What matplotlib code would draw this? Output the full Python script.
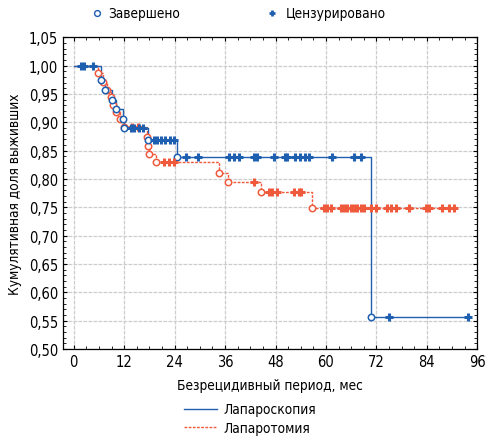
import numpy as np
import matplotlib
matplotlib.use("Agg")
import matplotlib.pyplot as plt
from matplotlib.lines import Line2D
from matplotlib.ticker import MultipleLocator, FuncFormatter

plt.rcParams['font.family'] = ['Liberation Sans Narrow', 'DejaVu Sans']
plt.rcParams['font.stretch'] = 'condensed'

# Laparoscopy (blue): event times / survival after event, censored times
lap_event_t = [6.6, 7.5, 9.2, 10.15, 11.6, 11.95, 17.65, 24.55, 70.7]
lap_event_s = [0.974, 0.957, 0.940, 0.923, 0.906, 0.889, 0.868, 0.838, 0.557]
lap_cens_t = [1.76, 2.54, 4.52, 13.6, 14.44, 15.63, 16.58,
              19.19, 19.9, 20.86, 21.81, 23.0, 23.95,
              26.8, 29.66, 37.03, 38.22, 39.41, 42.97, 43.69, 47.73, 50.35,
              50.82, 52.73, 53.92, 55.11, 56.06, 61.53, 66.76, 68.42,
              74.9, 93.9]

# Laparotomy (red)
lapt_event_t = [5.75, 7.06, 8.01, 8.85, 9.44, 10.15, 10.99, 11.94,
                17.41, 17.65, 18.0, 19.55, 34.65, 36.79, 44.64, 56.77]
lapt_event_s = [0.986, 0.971, 0.957, 0.944, 0.930, 0.918, 0.905, 0.891,
                0.874, 0.858, 0.844, 0.829, 0.811, 0.795, 0.776, 0.749]
lapt_cens_t = [13.96, 15.39, 21.57, 22.76, 23.95, 42.97,
               46.54, 47.25, 48.44, 52.49, 53.68, 54.15,
               59.62, 60.33, 61.28, 63.66, 64.38, 65.09, 66.04, 66.76,
               67.47, 68.42, 69.14, 70.8, 72.0, 74.6, 75.5, 76.7, 79.83,
               83.88, 84.59, 87.68, 89.35, 90.54]

blue = '#1f5fb0'
red = '#f05a3c'


def surv_at(t, ev_t, ev_s):
    s = 1.0
    for et, es in zip(ev_t, ev_s):
        if et <= t:
            s = es
    return s


def draw_km(ax, ev_t, ev_s, cens_t, color, ls):
    t_end = max(max(ev_t), max(cens_t))
    xs = [0.0] + list(ev_t) + [t_end]
    ys = [1.0] + list(ev_s) + [ev_s[-1]]
    ax.step(xs, ys, where='post', color=color, lw=1.0, ls=ls, zorder=3)
    ax.plot(ev_t, ev_s, 'o', ms=4.6, mfc='white', mec=color, mew=1.1, zorder=4)
    cy = [surv_at(t, ev_t, ev_s) for t in cens_t]
    ax.plot(cens_t, cy, '+', ms=5.5, mec=color, mew=2.2, zorder=5)


fig = plt.figure(figsize=(4.87, 4.39), dpi=100)
ax = fig.add_axes([0.129, 0.203, 0.851, 0.710])

draw_km(ax, lapt_event_t, lapt_event_s, lapt_cens_t, red, (0, (2, 1)))
draw_km(ax, lap_event_t, lap_event_s, lap_cens_t, blue, '-')

ax.set_xlim(-2.6, 96)
ax.set_ylim(0.5, 1.05)
ax.xaxis.set_major_locator(MultipleLocator(12))
ax.xaxis.set_minor_locator(MultipleLocator(3))
ax.yaxis.set_major_locator(MultipleLocator(0.05))
ax.yaxis.set_minor_locator(MultipleLocator(0.01))
ax.yaxis.set_major_formatter(FuncFormatter(lambda v, p: f"{v:.2f}".replace('.', ',')))
ax.tick_params(which='both', direction='in', top=True, right=True, labelsize=10.5)
ax.tick_params(which='major', length=3)
ax.tick_params(which='minor', length=2)
ax.grid(True, which='major', color='#cdcdcd', lw=0.9, ls=(0, (3, 1)))
ax.set_axisbelow(True)
for sp in ax.spines.values():
    sp.set_linewidth(0.9)

ax.set_xlabel("Безрецидивный период, мес", fontsize=9.8, labelpad=7)
ax.set_ylabel("Кумулятивная доля выживших", fontsize=9.8, labelpad=5)

# top legend
fig.add_artist(Line2D([97 / 487], [1 - 14 / 439], marker='o', ms=4.2, mfc='white',
                      mec=blue, mew=1.0, transform=fig.transFigure))
fig.text(108 / 487, 1 - 14 / 439, "Завершено", fontsize=9.8, va='center')
fig.add_artist(Line2D([272 / 487], [1 - 14 / 439], marker='+', ms=5, mec=blue,
                      mew=2.0, transform=fig.transFigure))
fig.text(286 / 487, 1 - 14 / 439, "Цензурировано", fontsize=9.8, va='center')

# bottom legend
handles = [Line2D([0], [0], color=blue, lw=1.0),
           Line2D([0], [0], color=red, lw=1.0, ls=(0, (2, 1)))]
fig.legend(handles, ["Лапароскопия", "Лапаротомия"], loc='upper left',
           bbox_to_anchor=(179 / 487, 1 - 398 / 439), frameon=False,
           fontsize=9.8, handlelength=2.4, handletextpad=0.5, labelspacing=0.3,
           borderaxespad=0)

fig.savefig("out.png", dpi=100)
